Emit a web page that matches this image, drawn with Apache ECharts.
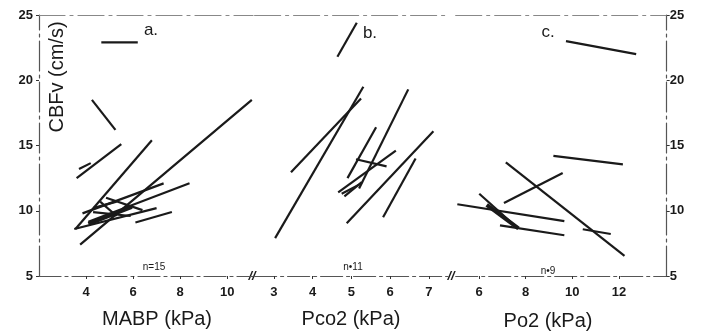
<!DOCTYPE html>
<html>
<head>
<meta charset="utf-8">
<script src="https://cdn.jsdelivr.net/npm/echarts@6/dist/echarts.min.js"></script>
<style>
  html, body { margin: 0; padding: 0; background: #fff; }
  #chart { width: 702px; height: 333px; }
</style>
</head>
<body>
<div id="chart"></div>
<script>
// each row: [x1, y1, x2, y2] - one subject's regression segment
const mabpSegments = [
  [4.65, 22.9, 6.2, 22.9],
  [4.25, 18.5, 5.25, 16.2],
  [3.6, 12.5, 5.5, 15.1],
  [3.7, 13.2, 4.2, 13.65],
  [3.75, 7.4, 11.05, 18.5],
  [3.55, 8.6, 6.8, 15.4],
  [3.5, 8.6, 7.0, 10.2],
  [4.1, 9.15, 8.4, 12.1],
  [3.85, 9.8, 7.3, 12.1],
  [4.1, 9.0, 5.95, 10.3],
  [6.1, 9.1, 7.65, 9.9],
  [4.85, 11.0, 6.4, 10.05],
  [4.3, 9.9, 5.9, 9.6],
  [4.3, 10.2, 5.3, 10.7],
  [4.6, 10.7, 5.3, 9.6]
];
const pco2Segments = [
  [4.64, 21.8, 5.14, 24.4],
  [3.03, 7.9, 5.31, 19.5],
  [3.44, 12.95, 5.25, 18.6],
  [4.9, 12.5, 5.64, 16.4],
  [5.2, 11.7, 6.47, 19.3],
  [5.12, 13.95, 5.91, 13.4],
  [4.66, 11.4, 6.15, 14.6],
  [4.82, 11.1, 5.27, 12.2],
  [4.75, 11.3, 5.2, 12.0],
  [4.88, 9.05, 7.12, 16.1],
  [5.82, 9.5, 6.66, 14.0]
];
const po2Segments = [
  [9.73, 23.0, 12.74, 22.0],
  [9.19, 14.2, 12.17, 13.55],
  [7.15, 13.7, 12.24, 6.55],
  [7.07, 10.6, 9.59, 12.9],
  [5.07, 10.5, 9.66, 9.2],
  [6.01, 11.3, 7.69, 8.62],
  [6.33, 10.45, 7.69, 8.65],
  [6.9, 8.88, 9.66, 8.12],
  [10.45, 8.58, 11.65, 8.22]
];

const mabpTicks = [4, 6, 8, 10];
const pco2Ticks = [3, 4, 5, 6, 7];
const po2Ticks = [6, 8, 10, 12];
const cbfvTicks = [5, 10, 15, 20, 25];

const panelNames = ['MABP (kPa)', 'Pco2 (kPa)', 'Po2 (kPa)'];
const panelLetters = ['a.', 'b.', 'c.'];
const panelN = ['n=15', 'n•11', 'n•9'];

const ink = '#1a1a1a';
const axisInk = '#555';
const fontFam = 'Liberation Sans, Arial, sans-serif';

const grids = [
  { left: 39, top: 15, width: 214, height: 261 },
  { left: 254.6, top: 15, width: 193.5, height: 261 },
  { left: 455.7, top: 15, width: 211, height: 261 }
];
const xRanges = [[2, 11.1], [2.5, 7.5], [5, 14.05]];
const xTicks = [mabpTicks, pco2Ticks, po2Ticks];

const xAxes = [];
grids.forEach((g, i) => {
  xAxes.push({
    type: 'value', gridIndex: i, position: 'bottom',
    min: xRanges[i][0], max: xRanges[i][1],
    splitLine: { show: false },
    axisLine: { lineStyle: { color: axisInk, width: 1.2, type: [22, 4, 3, 4] } },
    axisTick: { customValues: xTicks[i], length: 3, lineStyle: { color: '#333' } },
    axisLabel: { customValues: xTicks[i], margin: 10, color: ink, fontSize: 13, fontWeight: 'bold', fontFamily: fontFam }
  });
  xAxes.push({
    type: 'value', gridIndex: i, position: 'top',
    min: xRanges[i][0], max: xRanges[i][1],
    splitLine: { show: false },
    axisLine: { lineStyle: { color: '#888', width: 1.2, type: [26, 5, 3, 5] } },
    axisTick: { show: false }, axisLabel: { show: false }
  });
});

const yAxes = grids.map((g, i) => ({
  type: 'value', gridIndex: i, min: 5, max: 25, interval: 5,
  position: i === 2 ? 'right' : 'left',
  show: i !== 1,
  splitLine: { show: false },
  axisLine: { show: true, lineStyle: { color: axisInk, width: 1.2, type: [30, 4, 3, 4] } },
  axisTick: { customValues: cbfvTicks, length: 3, lineStyle: { color: '#333' } },
  axisLabel: { customValues: cbfvTicks, margin: i === 2 ? 3 : 6, color: ink, fontSize: 13, fontWeight: 'bold', fontFamily: fontFam }
}));

const series = [];
[mabpSegments, pco2Segments, po2Segments].forEach((segs, p) => {
  segs.forEach((s, k) => {
    const thick = (p === 0 && k === 9) || (p === 2 && k === 6);
    series.push({
      type: 'line', xAxisIndex: p * 2, yAxisIndex: p,
      data: [[s[0], s[1]], [s[2], s[3]]],
      symbol: 'none', silent: true,
      lineStyle: { color: ink, width: thick ? 4 : 2.2 }
    });
  });
});

const txt = (x, y, text, size, extra) => ({
  type: 'text', x: x, y: y,
  style: Object.assign({ text: text, fill: ink, font: size + 'px ' + fontFam, align: 'center', verticalAlign: 'middle' }, extra || {})
});

const option = {
  backgroundColor: '#fff',
  animation: false,
  grid: grids,
  xAxis: xAxes,
  yAxis: yAxes,
  series: series,
  graphic: [
    txt(157, 319, panelNames[0], 20),
    txt(351, 319, panelNames[1], 20),
    txt(548, 321, panelNames[2], 20),
    txt(151, 30, panelLetters[0], 17),
    txt(370, 33, panelLetters[1], 17),
    txt(548, 32, panelLetters[2], 17),
    txt(154, 267, panelN[0], 10),
    txt(353, 267, panelN[1], 10),
    txt(548, 271, panelN[2], 10),
    { type: 'text', x: 57, y: 77, rotation: Math.PI / 2,
      style: { text: 'CBFv (cm/s)', fill: ink, font: '20px ' + fontFam, align: 'center', verticalAlign: 'middle' } },
    txt(252, 276, '//', 13, { font: 'italic bold 13px ' + fontFam }),
    txt(451, 276, '//', 13, { font: 'italic bold 13px ' + fontFam })
  ]
};

const myChart = echarts.init(document.getElementById('chart'), null, { renderer: 'canvas' });
myChart.setOption(option);
</script>
</body>
</html>
